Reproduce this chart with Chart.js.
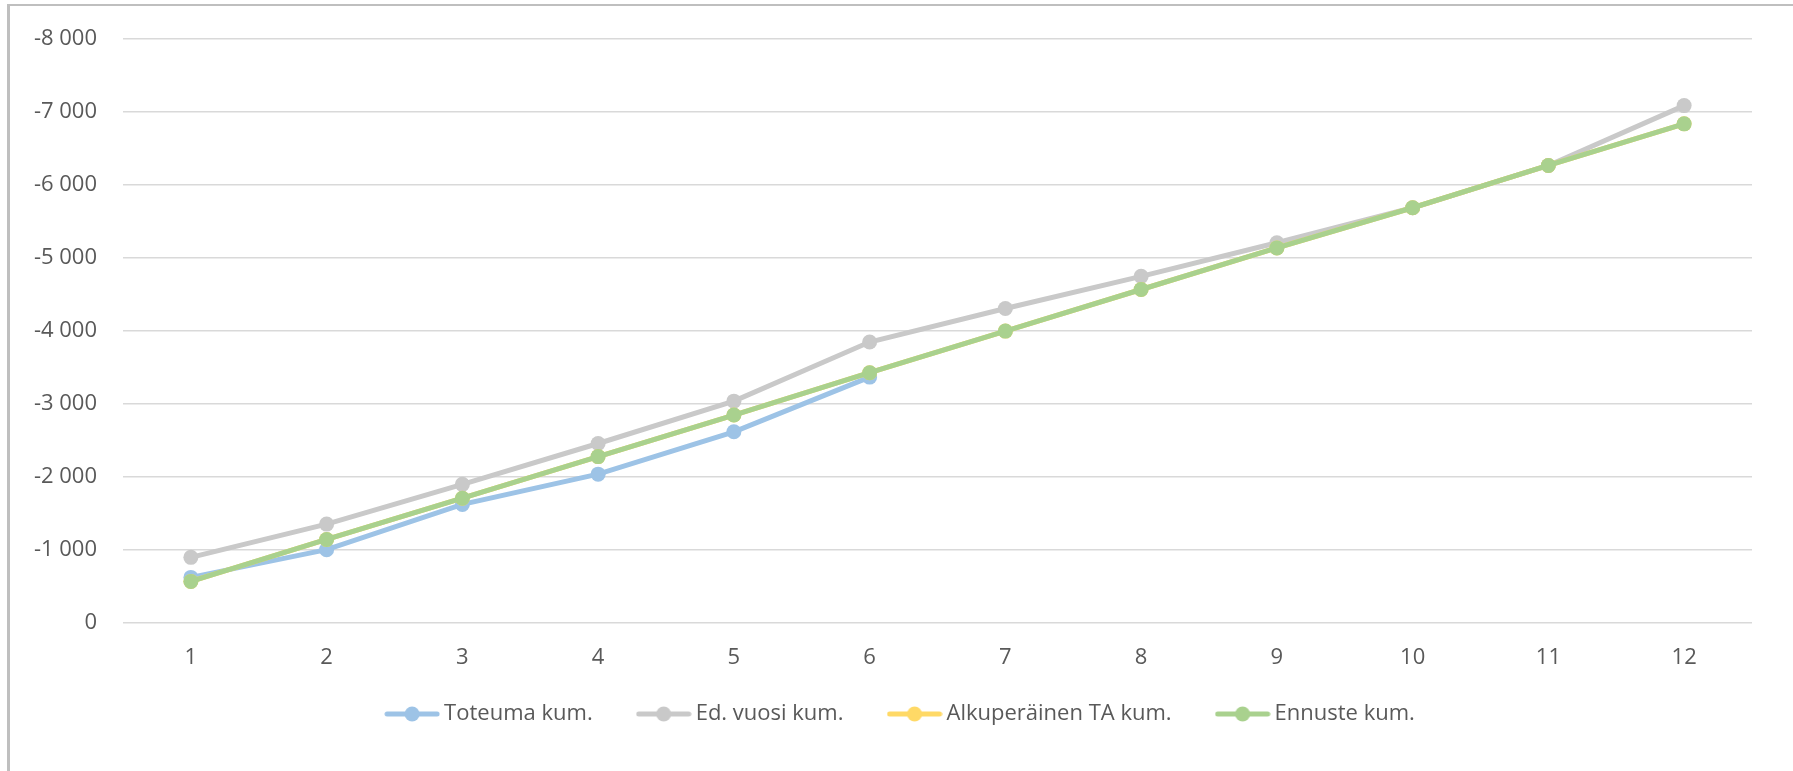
<!DOCTYPE html>
<html>
<head>
<meta charset="utf-8">
<script src="https://cdn.jsdelivr.net/npm/chart.js@4/dist/chart.umd.min.js"></script>
<style>
    html, body { margin: 0; padding: 0; background: #fff; overflow: hidden; }
    #wrap { position: relative; width: 1793px; height: 771px; }
    #frame { position: absolute; left: 7px; top: 4px; width: 2000px; height: 2000px;
             border-top: 2px solid #bfbfbf; border-left: 3px solid #bfbfbf; }
    #chart { position: absolute; left: 0; top: 0; }
</style>
</head>
<body>
<div id="wrap">
    <div id="frame"></div>
    <canvas id="chart" width="1793" height="771"></canvas>
</div>
<script>
// months 1..12
const months = ['1', '2', '3', '4', '5', '6', '7', '8', '9', '10', '11', '12'];

// cumulative values
const toteuma = [-625, -1005, -1625, -2040, -2620, -3370, null, null, null, null, null, null];
const edVuosi = [-900, -1355, -1900, -2460, -3040, -3850, -4310, -4750, -5210, -5690, -6270, -7090];
const alkuperainenTA = [-570, -1145, -1710, -2280, -2850, -3430, -4000, -4570, -5140, -5690, -6270, -6840];
const ennuste = [-570, -1145, -1710, -2280, -2850, -3430, -4000, -4570, -5140, -5690, -6270, -6840];

const seriesNames = ['Toteuma kum.', 'Ed. vuosi kum.', 'Alkuperäinen TA kum.', 'Ennuste kum.'];
const seriesColors = ['#9dc3e6', '#c9c9c9', '#ffd966', '#a9d18e'];

// y axis ticks
const yMin = -8000;
const yMax = 0;
const yStep = 1000;

const FONT = '"Open Sans", "Noto Sans", sans-serif';
const FONT_SIZE = 22;
const TEXT = '#595959';

function formatNumber(v) {
    return String(v).replace(/\B(?=(\d{3})+(?!\d))/g, ' ');
}

// small line-with-dot sample for the legend
function legendSample(color) {
    const c = document.createElement('canvas');
    c.width = 56;
    c.height = 16;
    const g = c.getContext('2d');
    g.strokeStyle = color;
    g.lineWidth = 5;
    g.lineCap = 'round';
    g.beginPath();
    g.moveTo(3, 8);
    g.lineTo(53, 8);
    g.stroke();
    g.fillStyle = color;
    g.beginPath();
    g.arc(28, 8, 7.5, 0, Math.PI * 2);
    g.fill();
    return c;
}

const seriesData = [toteuma, edVuosi, alkuperainenTA, ennuste];
const datasets = seriesData.map((data, i) => ({
    label: seriesNames[i],
    data: data,
    borderColor: seriesColors[i],
    backgroundColor: seriesColors[i],
    borderWidth: 5,
    pointRadius: 7.5,
    pointBorderWidth: 0,
    pointHoverRadius: 7.5,
    tension: 0,
    spanGaps: false,
    order: seriesData.length - 1 - i
}));

// move legend up and sideways to where it sits in the original
const legendShift = {
    id: 'legendShift',
    afterLayout(chart) {
        const lg = chart.legend;
        if (lg) {
            lg.left += 27;
            lg.right += 27;
            lg.top -= 30;
            lg.bottom -= 30;
        }
    }
};

document.addEventListener("DOMContentLoaded", function() {
    const ctx = document.getElementById('chart').getContext('2d');
    new Chart(ctx, {
        type: 'line',
        data: { labels: months, datasets: datasets },
        options: {
            responsive: false,
            animation: false,
            layout: { padding: { top: 38, right: 41, bottom: 6, left: 0 } },
            scales: {
                x: {
                    offset: true,
                    grid: { display: false, drawTicks: false },
                    border: { display: false },
                    ticks: { color: TEXT, font: { family: FONT, size: FONT_SIZE }, padding: 22 },
                    afterFit: function(scale) { scale.height = 60; }
                },
                y: {
                    reverse: true,
                    min: yMin,
                    max: yMax,
                    grid: { color: '#d9d9d9', lineWidth: 1.5, drawTicks: false },
                    border: { display: false },
                    ticks: {
                        stepSize: yStep,
                        color: TEXT,
                        font: { family: FONT, size: FONT_SIZE },
                        padding: 26,
                        callback: function(v) { return formatNumber(v); }
                    },
                    afterFit: function(scale) { scale.width = 123; }
                }
            },
            plugins: {
                legend: {
                    position: 'bottom',
                    labels: {
                        color: TEXT,
                        font: { family: FONT, size: FONT_SIZE },
                        usePointStyle: true,
                        pointStyleWidth: 42,
                        padding: 50,
                        sort: (a, b) => a.datasetIndex - b.datasetIndex,
                        generateLabels: function(chart) {
                            const items = Chart.defaults.plugins.legend.labels.generateLabels(chart);
                            items.forEach(item => {
                                item.pointStyle = legendSample(seriesColors[item.datasetIndex]);
                            });
                            return items;
                        }
                    }
                },
                tooltip: { enabled: false }
            }
        },
        plugins: [legendShift]
    });
});
</script>
</body>
</html>
